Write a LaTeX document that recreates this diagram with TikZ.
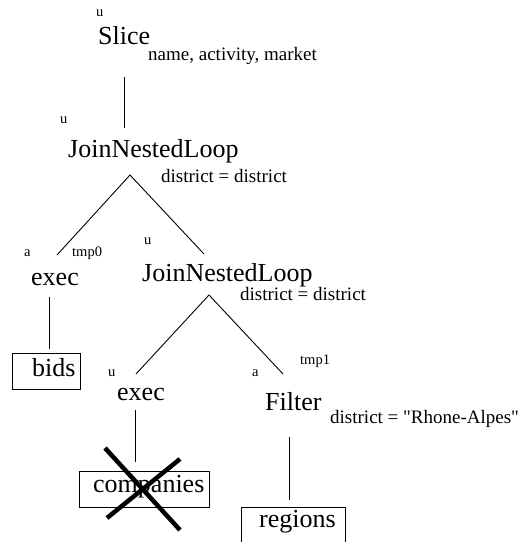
\documentclass[tikz,border=0pt]{standalone}
\usepackage{fontspec}
\setmainfont{Liberation Serif}
\newfontfamily\rawserif{Liberation Serif}[Ligatures=TeXOff]
\begin{document}
\begin{tikzpicture}[x=1pt,y=-1pt,
  big/.style={font=\fontsize{26}{30}\selectfont, inner sep=0pt, anchor=base west},
  md/.style={font=\fontsize{19}{22}\selectfont, inner sep=0pt, anchor=base west},
  sm/.style={font=\fontsize{14.5}{17}\selectfont, inner sep=0pt, anchor=base west},
  boxst/.style={draw, line width=0.9pt, inner sep=0pt, rectangle},
  edge/.style={line width=0.9pt},
  crossst/.style={line width=4.5pt}]
\useasboundingbox (0,0) rectangle (519,542);
\clip (0,0) rectangle (519,542);
% labels and operators
\node[sm] (u1) at (96,16) {u};
\node[big] (slice) at (98,44) {Slice};
\node[md] (slicelab) at (148,60) {name, activity, market};
\node[sm] (u2) at (60,123) {u};
\node[big] (jnl1) at (68,157) {JoinNestedLoop};
\node[md] (jnl1lab) at (161,182) {district = district};
\node[sm] (a1) at (24,256) {a};
\node[sm] (tmp0) at (72,256) {tmp0};
\node[sm] (u3) at (144,244) {u};
\node[big] (exec1) at (31,285) {exec};
\node[big] (jnl2) at (142,281) {JoinNestedLoop};
\node[md] (jnl2lab) at (240,300) {district = district};
\node[sm] (u4) at (108,376) {u};
\node[sm] (a2) at (252,376) {a};
\node[sm] (tmp1) at (300,364) {tmp1};
\node[big] (exec2) at (117,400) {exec};
\node[big] (filter) at (265,410) {Filter};
\node[md] (filtlab) at (330,423) {\rawserif district = "Rhone-Alpes"};
% boxes
\node[boxst, minimum width=68pt, minimum height=36pt] (bidsbox) at (46,371) {};
\node[big] (bids) at (32,376) {bids};
\node[boxst, minimum width=130pt, minimum height=36pt] (compbox) at (144,489) {};
\node[big] (comp) at (93,492) {companies};
\node[boxst, minimum width=104pt, minimum height=44pt] (regbox) at (293,529) {};
\node[big] (reg) at (259,527) {regions};
% connector ends
\coordinate (s1) at (124,77);
\coordinate (s2) at (124,128);
\coordinate (ap1) at (130,175);
\coordinate (l1) at (57,255);
\coordinate (r1) at (204,254);
\coordinate (e1a) at (49,297);
\coordinate (e1b) at (49,349);
\coordinate (ap2) at (209,295);
\coordinate (l2) at (136,374);
\coordinate (r2) at (283,374);
\coordinate (e2a) at (135,410);
\coordinate (e2b) at (135,462);
\coordinate (f1) at (289,437);
\coordinate (f2) at (289,500);
\coordinate (x1) at (105,448);
\coordinate (x2) at (180,530);
\coordinate (x3) at (180,459);
\coordinate (x4) at (107,518);
% connectors
\draw[edge] (s1) -- (s2);
\draw[edge] (l1) -- (ap1) -- (r1);
\draw[edge] (e1a) -- (e1b);
\draw[edge] (l2) -- (ap2) -- (r2);
\draw[edge] (e2a) -- (e2b);
\draw[edge] (f1) -- (f2);
% cross
\draw[crossst] (x1) -- (x2);
\draw[crossst] (x3) -- (x4);
\end{tikzpicture}
\end{document}
